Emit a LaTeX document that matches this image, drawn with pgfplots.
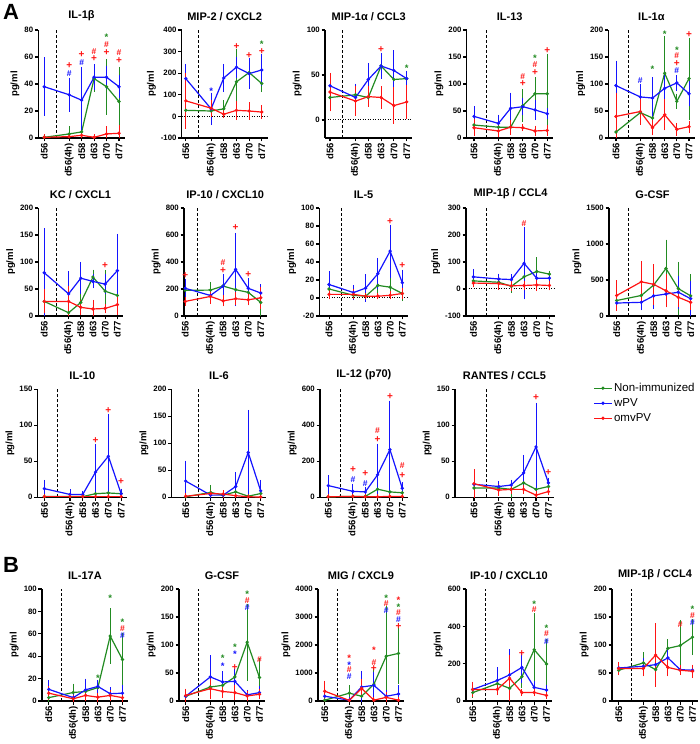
\documentclass[border=0pt]{standalone}
\usepackage{pgfplots}
\pgfplotsset{compat=1.18}
\usepackage{fontspec}
\setmainfont{Liberation Sans}
\definecolor{grn}{RGB}{34,139,34}
\definecolor{blu}{RGB}{20,20,255}
\definecolor{rd}{RGB}{255,20,20}
\newcommand{\symp}{\fontsize{10}{10}\selectfont +}
\newcommand{\symh}{\fontsize{8.5}{8.5}\selectfont\#}
\newcommand{\syms}{\fontsize{9.5}{9.5}\selectfont\raisebox{-2pt}{*}}
\pgfplotsset{
 pp/.style={scale only axis, height=108pt, xmax=6.45,
   axis lines*=left, axis line style={line width=1.3pt, black},
   xtick={0,2,3,4,5,6}, xticklabels={d56,d56(4h),d58,d63,d70,d77},
   xticklabel style={rotate=90, anchor=east, font=\bfseries\fontsize{9.5}{10}\selectfont, inner sep=1.5pt},
   yticklabel style={font=\bfseries\fontsize{7.8}{8}\selectfont, inner sep=1.5pt},
   tick align=outside, major tick length=3.5pt, tick style={line width=1.1pt, black},
   ylabel={pg/ml}, ylabel style={font=\bfseries\fontsize{9.5}{10}\selectfont},
   title style={font=\bfseries\fontsize{11}{12}\selectfont},
   /pgf/number format/assume math mode=true, /pgf/number format/1000 sep={},
   scaled y ticks=false, anchor=south west},
 ser/.style={color=#1, line width=1.2pt, mark=*, mark size=1pt,
   error bars/.cd, y dir=both, y explicit, error bar style={line width=0.9pt},
   error mark options={mark size=2.2pt, line width=0.9pt}},
}
\newcommand{\ser}[2]{\addplot[ser=#1] table[row sep=\\, x index=0, y index=1, y error index=2] {#2};}
\newcommand{\ann}[2]{\addplot[forget plot, draw=none, mark=none, nodes near coords={\csname sym\pgfplotspointmeta\endcsname}, point meta=explicit symbolic, nodes near coords style={anchor=center, text=#1, font=\bfseries, inner sep=0pt, text height=4.5pt, text depth=0pt}] table[row sep=\\, meta index=2] {#2};}
\newcommand{\dv}[2]{\addplot[forget plot, dash pattern=on 3pt off 2pt, line width=1pt, black] coordinates {(1,#1) (1,#2)};}
\newcommand{\zl}[1]{\addplot[forget plot, dash pattern=on 1pt off 1.5pt, line width=1pt, black] coordinates {(#1,0) (6.45,0)};}
\begin{document}
\begin{tikzpicture}
\path[use as bounding box] (0,0) rectangle (700pt,744pt);
\node[font=\bfseries\fontsize{22}{22}\selectfont] at (11pt,732pt) {A};
\node[font=\bfseries\fontsize{22}{22}\selectfont] at (11pt,179pt) {B};
% ---------- Row 1 ----------
\begin{axis}[pp, at={(38.3pt,606pt)}, width=86.3pt, xmin=-0.48, ymin=0, ymax=80, ytick={0,20,40,60,80}, title={IL-1β}]
\dv{0}{80}
\ser{grn}{0 0.5 0.5\\ 2 3 4\\ 3 4.5 1\\ 4 44 8\\ 5 38 19\\ 6 27 24\\}
\ser{blu}{0 38 20\\ 2 32 11\\ 3 28 23\\ 4 45 8\\ 5 45 7\\ 6 38 7\\}
\ser{rd}{0 0.5 0.5\\ 2 1 1\\ 3 2 1\\ 4 0.5 0.5\\ 5 3 4\\ 6 3.5 4.5\\}
\ann{rd}{0 68 p\\ 2 53 p\\ 3 61 p\\ 4 63.5 h\\ 4 58 p\\ 5 68.5 h\\ 5 62.6 p\\ 6 62.6 h\\ 6 57 p\\}
\ann{blu}{0 62.3 h\\ 2 47.5 h\\ 3 55 h\\}
\ann{grn}{4 69.5 s\\ 5 75 s\\}
\end{axis}
\begin{axis}[pp, at={(181.7pt,606pt)}, width=85.8pt, xmin=-0.32, ymin=-100, ymax=400, ytick={-100,0,100,200,300,400}, title={MIP-2 / CXCL2}]
\dv{-100}{400}
\zl{-0.32}
\ser{grn}{0 28 12\\ 2 25 10\\ 3 35 30\\ 4 160 140\\ 5 203 30\\ 6 152 30\\}
\ser{blu}{0 175 58\\ 2 35 65\\ 3 178 55\\ 4 228 38\\ 5 198 62\\ 6 215 62\\}
\ser{rd}{0 72 120\\ 2 38 30\\ 3 10 8\\ 4 28 35\\ 5 25 30\\ 6 20 22\\}
\ann{rd}{3 255 p\\ 4 322 p\\ 5 279 p\\ 6 299 p\\}
\ann{blu}{0 265 h\\ 2 120 s\\}
\ann{grn}{5 317 s\\ 6 340 s\\}
\end{axis}
\begin{axis}[pp, at={(325pt,606pt)}, width=87.4pt, xmin=-0.39, ymin=-20, ymax=100, ytick={0,50,100}, title={MIP-1α / CCL3}]
\dv{-20}{100}
\zl{-0.39}
\ser{grn}{0 25 8\\ 2 28 3\\ 3 25 8\\ 4 60 7\\ 5 45 20\\ 6 46 6\\}
\ser{blu}{0 38 10\\ 2 25 13\\ 3 45 16\\ 4 60 12\\ 5 55 20\\ 6 46 6\\}
\ser{rd}{0 31 19\\ 2 21 14\\ 3 26 9\\ 4 25 10\\ 5 16 18\\ 6 20 16\\}
\ann{rd}{4 86.5 h\\ 4 78 p\\}
\ann{blu}{4 95 s\\}
\ann{grn}{4 103 s\\ 6 58.5 s\\}
\end{axis}
\begin{axis}[pp, at={(466.7pt,606pt)}, width=86pt, xmin=-0.6, ymin=0, ymax=200, ytick={0,50,100,150,200}, title={IL-13}]
\dv{0}{200}
\ser{grn}{0 24 5\\ 2 20 7\\ 3 20 10\\ 4 60 26\\ 5 82 26\\ 6 82 70\\}
\ser{blu}{0 40 15\\ 2 27 12\\ 3 55 25\\ 4 58 12\\ 5 52 15\\ 6 45 6\\}
\ser{rd}{0 19 12\\ 2 13 8\\ 3 20 10\\ 4 19 2\\ 5 13 6\\ 6 14 6\\}
\ann{rd}{3 89 p\\ 4 112.5 h\\ 4 99 p\\ 5 134.5 h\\ 5 120 p\\ 6 160 p\\}
\ann{grn}{4 126 s\\ 5 149 s\\}
\end{axis}
\begin{axis}[pp, at={(608.3pt,606pt)}, width=86.2pt, xmin=-0.63, ymin=0, ymax=200, ytick={0,50,100,150,200}, title={IL-1α}]
\dv{0}{200}
\ser{grn}{0 11 10\\ 2 47 5\\ 3 37 5\\ 4 120 65\\ 5 68 10\\ 6 110 72\\}
\ser{blu}{0 97 42\\ 2 76 20\\ 3 74 34\\ 4 92 20\\ 5 102 10\\ 6 82 19\\}
\ser{rd}{0 40 40\\ 2 49 20\\ 3 19 10\\ 4 43 25\\ 5 16 8\\ 6 21 7\\}
\ann{rd}{3 116 p\\ 5 151 h\\ 5 137 p\\ 6 203 h\\ 6 190 p\\}
\ann{blu}{0 149 h\\ 2 106 h\\ 5 123 h\\}
\ann{grn}{2 120 s\\ 3 129 s\\ 4 194 s\\ 5 165 s\\ 6 216 s\\}
\end{axis}
% ---------- Row 2 ----------
\begin{axis}[pp, at={(38.3pt,428pt)}, width=84.5pt, xmin=-0.49, ymin=0, ymax=200, ytick={0,50,100,150,200}, title={KC / CXCL1}]
\dv{0}{200}
\ser{grn}{0 27 5\\ 2 6 6\\ 3 25 15\\ 4 72 10\\ 5 46 35\\ 6 38 5\\}
\ser{blu}{0 80 78\\ 2 41 38\\ 3 70 26\\ 4 64 9\\ 5 59 15\\ 6 84 64\\}
\ser{rd}{0 27 18\\ 2 27 25\\ 3 16 10\\ 4 13 13\\ 5 14 5\\ 6 21 15\\}
\ann{rd}{3 124.5 p\\ 5 92 p\\}
\ann{blu}{3 109 h\\}
\end{axis}
\begin{axis}[pp, at={(184pt,428pt)}, width=82.5pt, xmin=-0.1, ymin=0, ymax=800, ytick={0,200,400,600,800}, title={IP-10 / CXCL10}]
\dv{0}{800}
\ser{grn}{0 190 20\\ 2 192 45\\ 3 222 70\\ 4 195 60\\ 5 175 40\\ 6 100 100\\}
\ser{blu}{0 205 55\\ 2 152 15\\ 3 220 75\\ 4 345 255\\ 5 205 60\\ 6 170 50\\}
\ser{rd}{0 108 15\\ 2 145 40\\ 3 112 25\\ 4 128 30\\ 5 120 25\\ 6 135 65\\}
\ann{rd}{0 350 h\\ 0 297 p\\ 3 394 h\\ 3 333 p\\ 4 652 p\\ 5 302 p\\}
\end{axis}
\begin{axis}[pp, at={(319.3pt,428pt)}, width=88.5pt, xmin=-0.8, ymin=-20, ymax=100, ytick={-20,0,20,40,60,80,100}, title={IL-5}]
\dv{-20}{100}
\zl{-0.8}
\ser{grn}{0 10 5\\ 2 3 2\\ 3 2 2\\ 4 14 12\\ 5 12 8\\ 6 5 6\\}
\ser{blu}{0 15 12\\ 2 6 6\\ 3 11 13\\ 4 27 15\\ 5 52 27\\ 6 17 12\\}
\ser{rd}{0 4 3\\ 2 4 3\\ 3 2 1\\ 4 2 1\\ 5 3 2\\ 6 5 4\\}
\ann{rd}{4 48.5 p\\ 5 84 p\\ 6 35 p\\}
\end{axis}
\begin{axis}[pp, at={(466pt,428pt)}, width=89.1pt, xmin=-0.58, ymin=-100, ymax=300, ytick={-100,0,100,200,300}, title={MIP-1β / CCL4}]
\dv{-100}{300}
\zl{-0.58}
\ser{grn}{0 30 10\\ 2 25 10\\ 3 10 15\\ 4 45 15\\ 5 65 45\\ 6 55 5\\}
\ser{blu}{0 45 20\\ 2 37 12\\ 3 35 12\\ 4 95 125\\ 5 40 10\\ 6 40 8\\}
\ser{rd}{0 22 8\\ 2 20 15\\ 3 12 10\\ 4 13 10\\ 5 15 15\\ 6 13 10\\}
\ann{rd}{0 85 p\\ 4 240 h\\}
\end{axis}
\begin{axis}[pp, at={(609pt,428pt)}, width=87.2pt, xmin=-0.62, ymin=0, ymax=1500, ytick={0,500,1000,1500}, title={G-CSF}]
\dv{0}{1500}
\ser{grn}{0 215 50\\ 2 285 150\\ 3 430 200\\ 4 660 370\\ 5 380 340\\ 6 280 270\\}
\ser{blu}{0 180 40\\ 2 190 80\\ 3 280 150\\ 4 305 100\\ 5 330 200\\ 6 240 210\\}
\ser{rd}{0 285 180\\ 2 475 255\\ 3 440 250\\ 4 350 200\\ 5 260 110\\ 6 190 70\\}
\ann{grn}{4 1095 s\\}
\end{axis}
% ---------- Row 3 ----------
\begin{axis}[pp, at={(37.7pt,246.7pt)}, width=89.2pt, xmin=-0.52, ymin=0, ymax=150, ytick={0,50,100,150}, title={IL-10}]
\dv{0}{150}
\ser{grn}{0 1 1\\ 2 1 1\\ 3 1 1\\ 4 5 4\\ 5 6 3\\ 6 5 3\\}
\ser{blu}{0 12 9\\ 2 4 4\\ 3 4 2\\ 4 35 36\\ 5 57 56\\ 6 5 4\\}
\ser{rd}{0 1 0.5\\ 2 1 0.5\\ 3 1 0.5\\ 4 1 0.5\\ 5 1 0.5\\ 6 1 0.5\\}
\ann{rd}{0 40 p\\ 4 78 p\\ 5 120 p\\ 6 21 p\\}
\ann{blu}{0 29 h\\}
\end{axis}
\begin{axis}[pp, at={(171.7pt,246.7pt)}, width=94.6pt, xmin=-1.12, ymin=0, ymax=200, ytick={0,50,100,150,200}, title={IL-6}]
\dv{0}{200}
\ser{grn}{0 1 1\\ 2 9 10\\ 3 4 3\\ 4 10 3\\ 5 2 1\\ 6 7 3\\}
\ser{blu}{0 30 34\\ 2 4 3\\ 3 4 3\\ 4 20 22\\ 5 83 75\\ 6 12 16\\}
\ser{rd}{0 2 1\\ 2 7 3\\ 3 6 3\\ 4 3 1\\ 5 1 0.5\\ 6 0.5 0.5\\}
\ann{rd}{5 168 p\\}
\end{axis}
\begin{axis}[pp, at={(320pt,246.7pt)}, width=87.8pt, xmin=-0.67, ymin=0, ymax=600, ytick={0,200,400,600}, title={IL-12 (p70)}]
\dv{0}{600}
\ser{grn}{0 3 2\\ 2 5 3\\ 3 5 3\\ 4 45 30\\ 5 30 10\\ 6 25 5\\}
\ser{blu}{0 65 45\\ 2 33 30\\ 3 30 15\\ 4 125 160\\ 5 265 260\\ 6 50 20\\}
\ser{rd}{0 3 2\\ 2 5 3\\ 3 3 2\\ 4 3 2\\ 5 5 3\\ 6 5 3\\}
\ann{rd}{0 198 p\\ 2 152 p\\ 3 130 p\\ 4 365 h\\ 4 315 p\\ 5 554 p\\ 6 174 h\\ 6 118 p\\}
\ann{blu}{0 148 h\\ 2 96 h\\ 3 74 h\\}
\end{axis}
\begin{axis}[pp, at={(455pt,246.7pt)}, width=99pt, xmin=-1.53, ymin=0, ymax=150, ytick={0,50,100,150}, title={RANTES / CCL5},
  legend style={at={(1.37,1.095)}, anchor=north west, draw=none, fill=none, font=\fontsize{11.5}{13}\selectfont, row sep=1.5pt}, legend cell align=left]
\dv{0}{150}
\ser{grn}{0 13 3\\ 2 13 2\\ 3 11 10\\ 4 20 4\\ 5 11 4\\ 6 15 3\\}
\addlegendentry{Non-immunized}
\ser{blu}{0 18 10\\ 2 15 4\\ 3 17 4\\ 4 34 22\\ 5 70 58\\ 6 20 4\\}
\addlegendentry{wPV}
\ser{rd}{0 19 17\\ 2 10 5\\ 3 11 3\\ 4 11 3\\ 5 3 3\\ 6 8 2\\}
\addlegendentry{omvPV}
\ann{rd}{4 65 p\\ 5 137 p\\ 6 34 p\\}
\end{axis}
% ---------- Panel B ----------
\begin{axis}[pp, at={(42pt,43pt)}, height=112pt, width=86pt, xmin=-0.55, ymin=0, ymax=100, ytick={0,20,40,60,80,100}, title={IL-17A}]
\dv{0}{100}
\ser{grn}{0 3 2\\ 2 7.6 6\\ 3 8.5 2\\ 4 12 3\\ 5 58 23\\ 6 37 22\\}
\ser{blu}{0 10.4 6\\ 2 3 2\\ 3 10 8\\ 4 13 4\\ 5 6.5 4\\ 6 7 5\\}
\ser{rd}{0 7 4\\ 2 2 1\\ 3 5 3\\ 4 3.4 2\\ 5 5 3\\ 6 3 2\\}
\ann{grn}{3 21 s\\ 4 21 s\\ 5 92.5 s\\ 6 71.5 s\\}
\ann{rd}{5 85 h\\ 6 64.5 h\\}
\ann{blu}{5 77.5 h\\ 6 57.5 h\\}
\end{axis}
\begin{axis}[pp, at={(179pt,43pt)}, height=112pt, width=86pt, xmin=-0.55, ymin=0, ymax=200, ytick={0,50,100,150,200}, title={G-CSF}]
\dv{0}{200}
\ser{grn}{0 8.5 3\\ 2 25 8\\ 3 28 8\\ 4 43 10\\ 5 105 65\\ 6 42 30\\}
\ser{blu}{0 8.5 4\\ 2 43 35\\ 3 34 15\\ 4 35 18\\ 5 11 5\\ 6 15 8\\}
\ser{rd}{0 10 8\\ 2 22 15\\ 3 17 8\\ 4 15 10\\ 5 9 5\\ 6 12 5\\}
\ann{grn}{2 106 s\\ 3 78 s\\ 4 97 s\\ 5 193 s\\}
\ann{blu}{2 93 s\\ 3 64 s\\ 4 84.5 s\\ 5 165 h\\}
\ann{rd}{4 72 h\\ 4 59 p\\ 5 179 h\\ 6 73 h\\}
\end{axis}
\begin{axis}[pp, at={(318pt,43pt)}, height=112pt, width=86pt, xmin=-0.55, ymin=0, ymax=4000, ytick={0,1000,2000,3000,4000}, title={MIG / CXCL9}]
\dv{0}{4000}
\ser{grn}{0 30 20\\ 2 280 200\\ 3 170 100\\ 4 600 500\\ 5 1600 1700\\ 6 1700 1000\\}
\ser{blu}{0 170 150\\ 2 30 20\\ 3 500 500\\ 4 560 400\\ 5 170 150\\ 6 250 250\\}
\ser{rd}{0 350 300\\ 2 20 20\\ 3 450 250\\ 4 30 20\\ 5 130 100\\ 6 30 20\\}
\ann{rd}{0 1070 h\\ 2 1560 s\\ 2 1090 h\\ 4 1850 s\\ 4 1360 h\\ 4 1120 p\\ 5 3460 h\\ 6 3620 s\\ 6 3120 h\\ 6 2620 p\\}
\ann{grn}{4 1600 s\\ 5 3720 s\\ 6 3370 s\\}
\ann{blu}{0 790 h\\ 2 1320 s\\ 2 840 h\\ 5 3190 h\\ 6 2870 h\\}
\end{axis}
\begin{axis}[pp, at={(466pt,43pt)}, height=112pt, width=86pt, xmin=-0.55, ymin=0, ymax=600, ytick={0,200,400,600}, title={IP-10 / CXCL10}]
\dv{0}{600}
\ser{grn}{0 45 15\\ 2 93 30\\ 3 68 50\\ 4 130 50\\ 5 275 185\\ 6 198 120\\}
\ser{blu}{0 62 20\\ 2 110 60\\ 3 140 125\\ 4 180 70\\ 5 73 20\\ 6 59 15\\}
\ser{rd}{0 62 30\\ 2 62 20\\ 3 122 110\\ 4 45 5\\ 5 46 5\\ 6 30 8\\}
\ann{grn}{4 330 s\\ 5 524 s\\ 6 393 s\\}
\ann{rd}{4 290 h\\ 4 250 p\\ 5 485 h\\ 6 355 h\\}
\ann{blu}{5 444 h\\ 6 314 h\\}
\end{axis}
\begin{axis}[pp, at={(612pt,43pt)}, height=112pt, width=86pt, xmin=-0.55, ymin=0, ymax=200, ytick={0,50,100,150,200}, title={MIP-1β / CCL4}]
\dv{0}{200}
\ser{grn}{0 55 5\\ 2 68 15\\ 3 56 5\\ 4 94 12\\ 5 99 42\\ 6 114 28\\}
\ser{blu}{0 59 7\\ 2 62 10\\ 3 65 10\\ 4 77 15\\ 5 56 5\\ 6 55 5\\}
\ser{rd}{0 58 8\\ 2 58 10\\ 3 82 53\\ 4 60 12\\ 5 55 5\\ 6 53 8\\}
\ann{grn}{4 121 s\\ 6 166 s\\}
\ann{rd}{4 107 h\\ 5 135 h\\ 6 152 h\\}
\ann{blu}{5 121 h\\ 6 138 h\\}
\end{axis}
\end{tikzpicture}
\end{document}
